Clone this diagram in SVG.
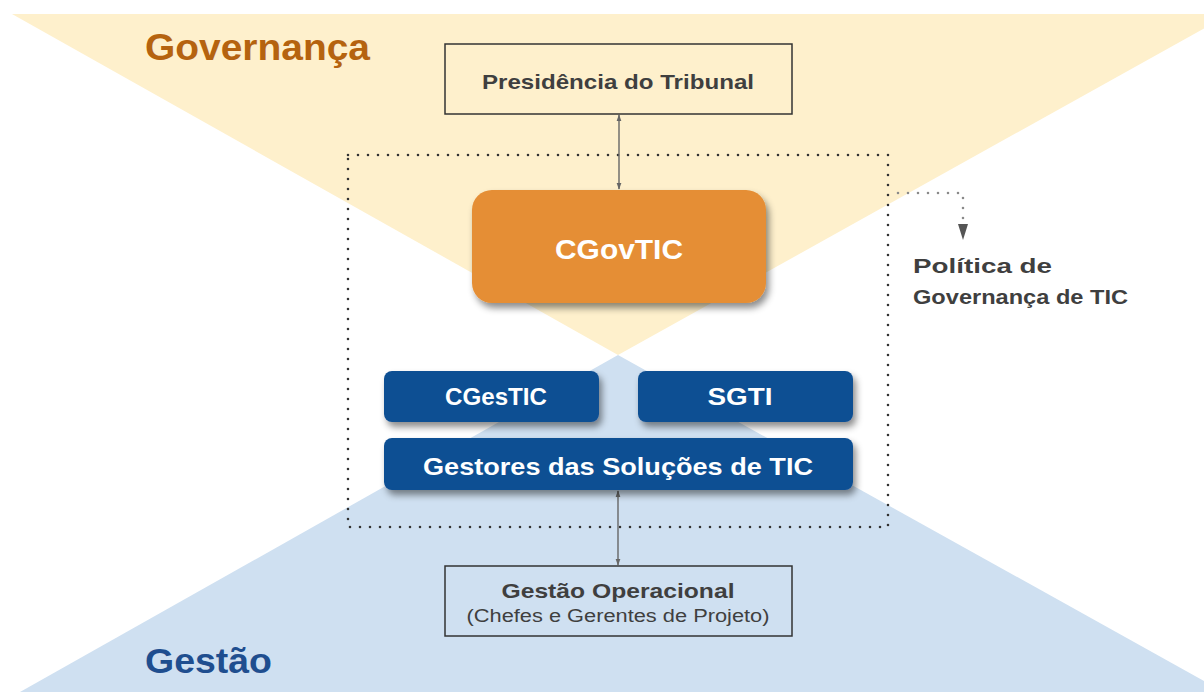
<svg xmlns="http://www.w3.org/2000/svg" width="1204" height="692" viewBox="0 0 1204 692">
<defs>
<style>
.lbl{font-family:"Liberation Sans",Arial,sans-serif;font-weight:bold;}
.reg{font-family:"Liberation Sans",Arial,sans-serif;}
.white{fill:#ffffff;}
.gray{fill:#3f3f3f;}
.blue{fill:#0F4F93;}
.frame{fill:none;stroke:#333333;stroke-width:1.5;}
.dots{fill:none;stroke:#333333;stroke-width:2.6;stroke-linecap:round;stroke-dasharray:0 10;}
.dots2{fill:none;stroke:#8a8a8a;stroke-width:2.6;stroke-linecap:round;stroke-dasharray:0 10;}
.conn{stroke:#666666;stroke-width:1.4;fill:none;}
</style>
<filter id="sh" x="-10%" y="-20%" width="125%" height="150%">
<feDropShadow dx="3" dy="5" stdDeviation="3.5" flood-color="#000000" flood-opacity="0.45"/>
</filter>
<marker id="ah" viewBox="0 0 10 10" refX="9" refY="5" markerWidth="7" markerHeight="7" orient="auto-start-reverse" markerUnits="userSpaceOnUse">
<path d="M0,1.5 L10,5 L0,8.5 z" fill="#666666"/>
</marker>
</defs>
<rect width="1204" height="692" fill="#ffffff"/>
<g id="background">
<polygon points="12,14 1230,14 618,355" fill="#FEF0CC"/>
<polygon points="618,355 20,692 1224,692" fill="#CFE0F1"/>
<text class="lbl" x="145" y="60" font-size="36" textLength="225" lengthAdjust="spacingAndGlyphs" fill="#B5630F">Governança</text>
<text class="lbl" x="145" y="673" font-size="35" textLength="127" lengthAdjust="spacingAndGlyphs" fill="#1F4E8F">Gestão</text>
</g>
<g id="connectors">
<rect class="dots" x="348" y="155" width="540" height="372"/>
<polyline class="dots2" points="898,193 963,193 963,222"/>
<polygon points="958,224 968,224 963,240" fill="#555555"/>
<line class="conn" x1="619" y1="115" x2="619" y2="189" marker-start="url(#ah)" marker-end="url(#ah)"/>
<line class="conn" x1="618" y1="491" x2="618" y2="565" marker-start="url(#ah)" marker-end="url(#ah)"/>
</g>
<g id="presidencia">
<rect class="frame" x="445" y="44" width="347" height="70"/>
<text class="lbl gray" x="618" y="89" font-size="21" text-anchor="middle" textLength="272" lengthAdjust="spacingAndGlyphs">Presidência do Tribunal</text>
</g>
<g id="cgovtic">
<rect x="472" y="190" width="294" height="113" rx="20" fill="#E58E35" filter="url(#sh)"/>
<text class="lbl white" x="619" y="259" font-size="27" text-anchor="middle" textLength="128" lengthAdjust="spacingAndGlyphs">CGovTIC</text>
</g>
<g id="politica">
<text class="lbl gray" x="913" y="273" font-size="21" textLength="139" lengthAdjust="spacingAndGlyphs">Política de</text>
<text class="lbl gray" x="913" y="304" font-size="21" textLength="215" lengthAdjust="spacingAndGlyphs">Governança de TIC</text>
</g>
<g id="cgestic">
<rect class="blue" x="384" y="371" width="215" height="51" rx="8" filter="url(#sh)"/>
<text class="lbl white" x="496" y="405" font-size="24" text-anchor="middle" textLength="102" lengthAdjust="spacingAndGlyphs">CGesTIC</text>
</g>
<g id="sgti">
<rect class="blue" x="638" y="371" width="215" height="51" rx="8" filter="url(#sh)"/>
<text class="lbl white" x="740" y="405" font-size="24" text-anchor="middle" textLength="65" lengthAdjust="spacingAndGlyphs">SGTI</text>
</g>
<g id="gestores">
<rect class="blue" x="384" y="438" width="469" height="52" rx="8" filter="url(#sh)"/>
<text class="lbl white" x="618" y="475" font-size="24" text-anchor="middle" textLength="390" lengthAdjust="spacingAndGlyphs">Gestores das Soluções de TIC</text>
</g>
<g id="gestao-operacional">
<rect class="frame" x="445" y="566" width="347" height="70"/>
<text class="lbl gray" x="618" y="598" font-size="21" text-anchor="middle" textLength="233" lengthAdjust="spacingAndGlyphs">Gestão Operacional</text>
<text class="reg gray" x="618" y="622" font-size="18" text-anchor="middle" textLength="303" lengthAdjust="spacingAndGlyphs">(Chefes e Gerentes de Projeto)</text>
</g>
</svg>
